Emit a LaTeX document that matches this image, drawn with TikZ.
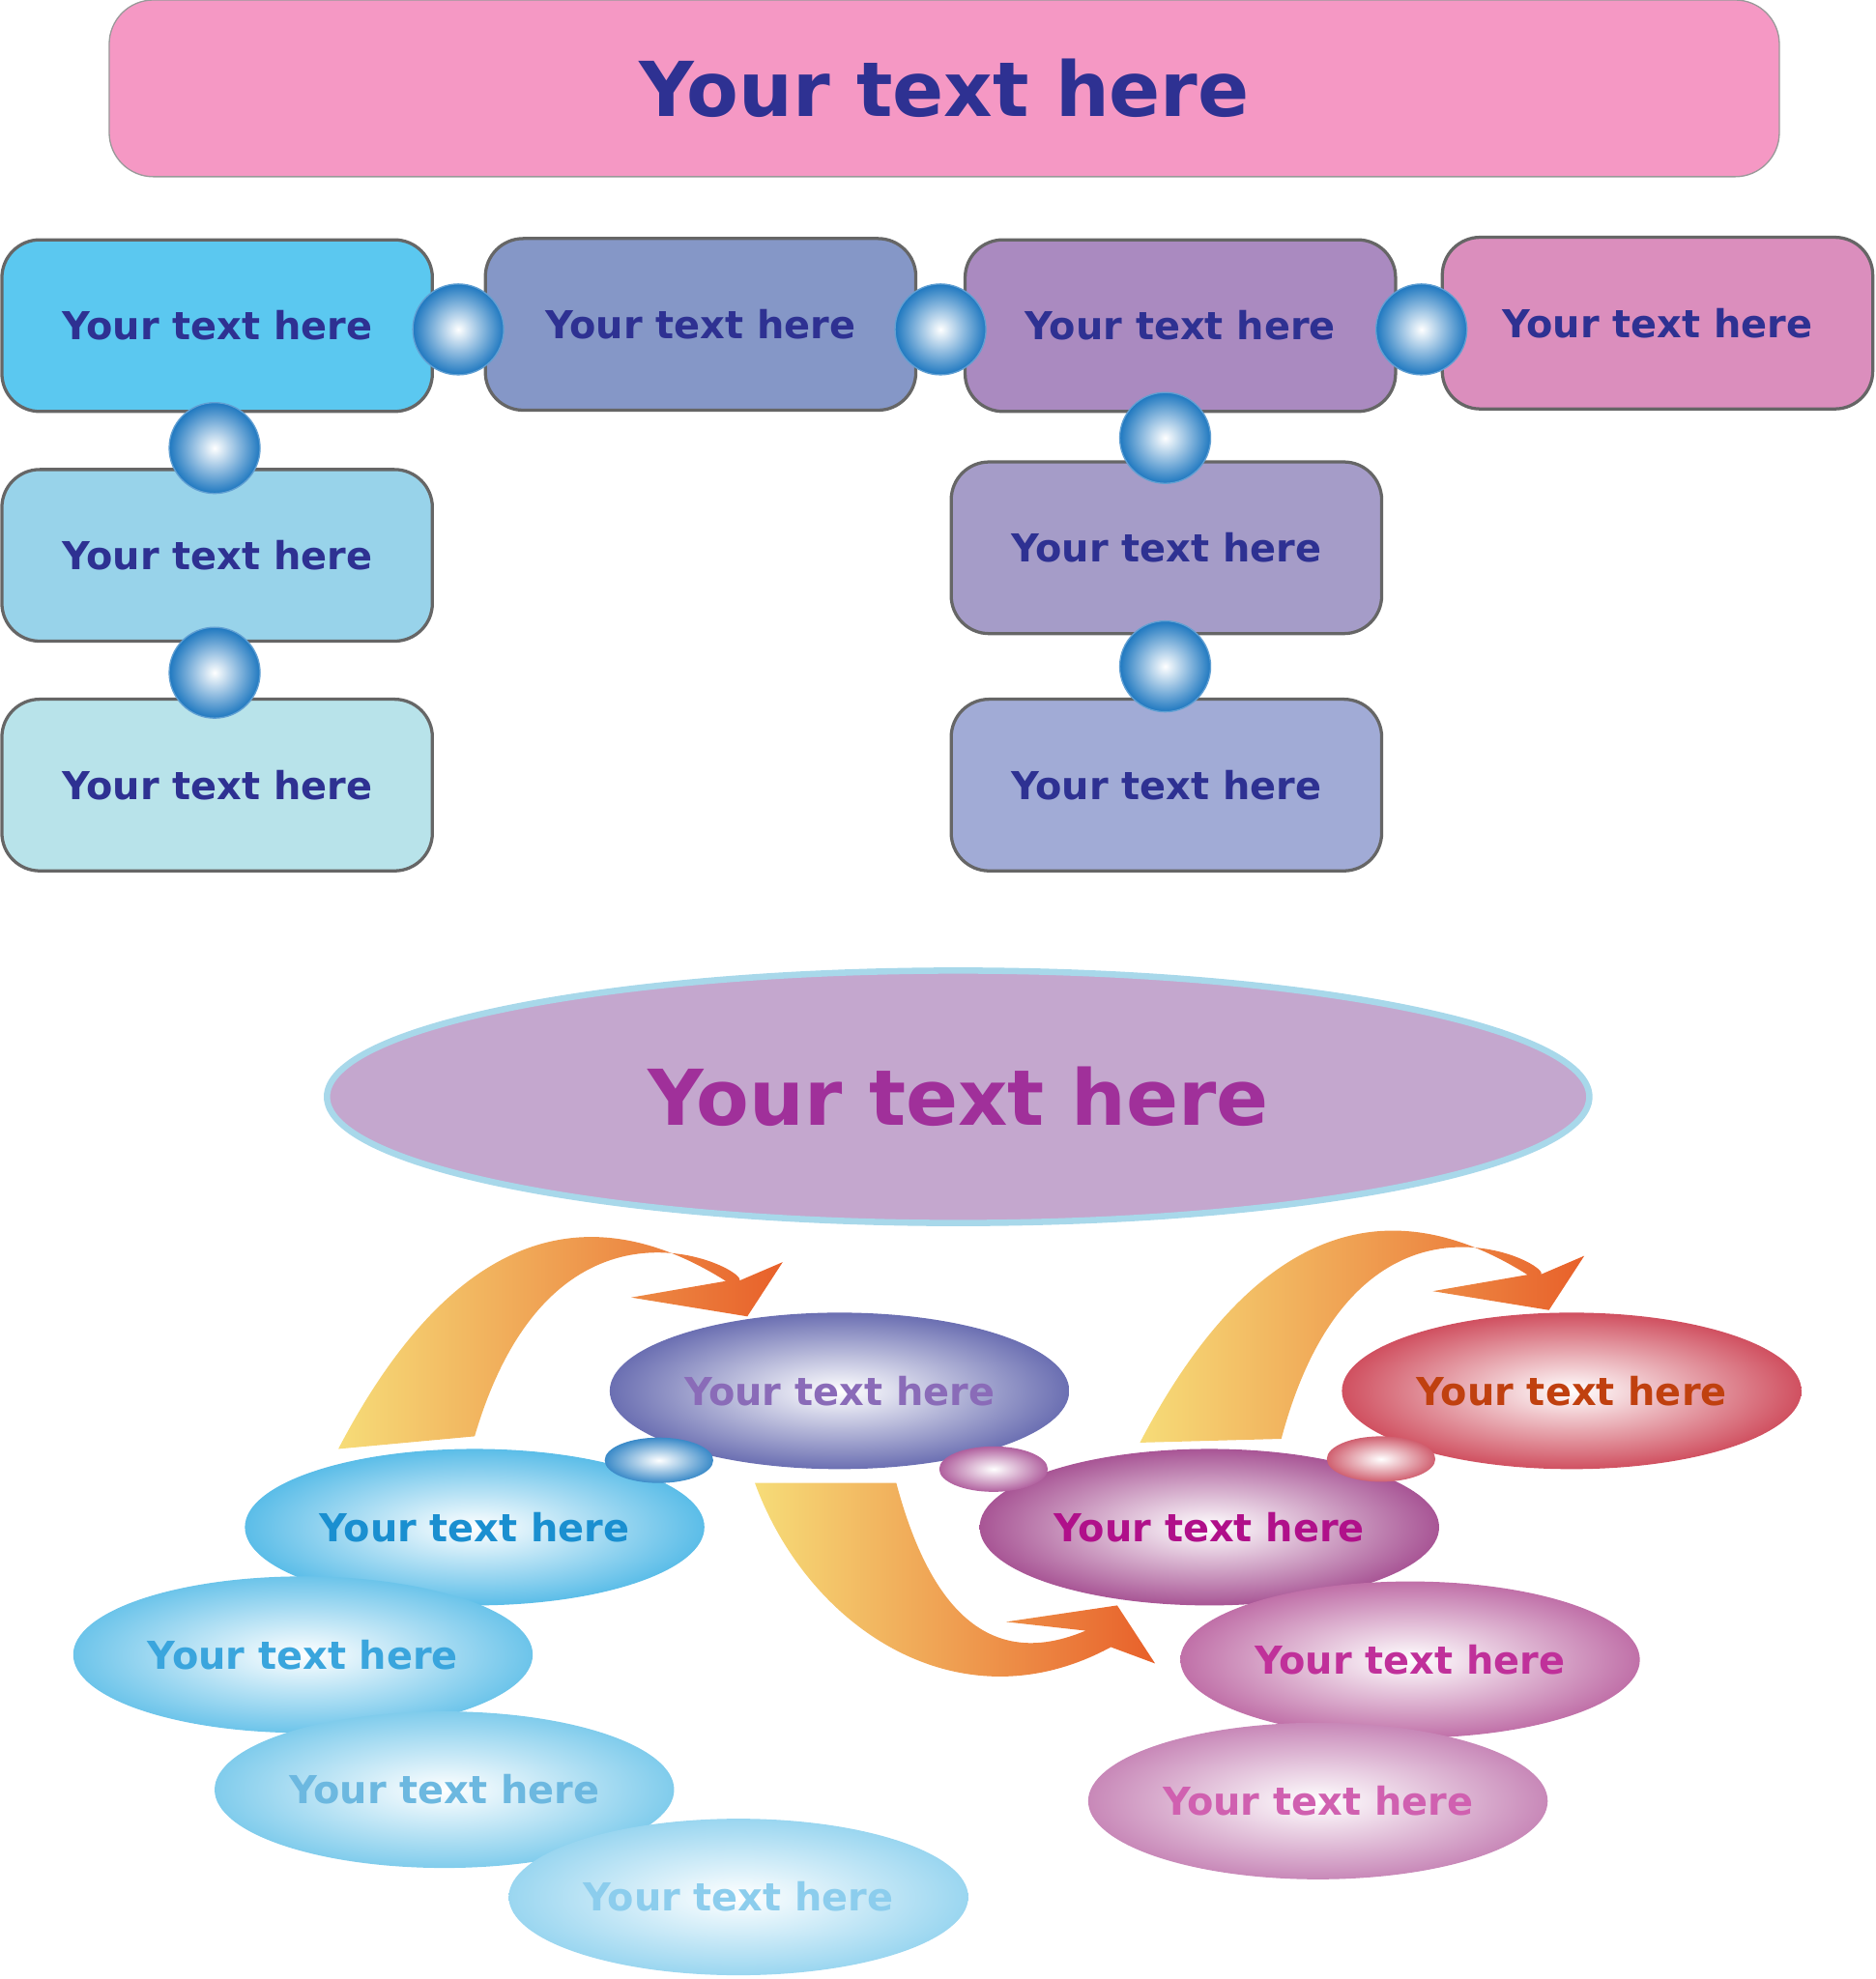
\documentclass[tikz,border=0pt]{standalone}
\usepackage{fontspec}
\setmainfont{DejaVu Sans}
\usetikzlibrary{shapes.geometric}
\definecolor{navy}{HTML}{2E3192}
\definecolor{ballb}{HTML}{1F78C0}
\definecolor{cT}{HTML}{F598C4}
\definecolor{c1}{HTML}{5BC8F0}
\definecolor{c2}{HTML}{8597C7}
\definecolor{c3}{HTML}{AA8AC0}
\definecolor{c4}{HTML}{DB8EBD}
\definecolor{c5}{HTML}{98D3EA}
\definecolor{c6}{HTML}{B8E3EA}
\definecolor{c7}{HTML}{A59CC8}
\definecolor{c8}{HTML}{A1ABD6}
\definecolor{bigf}{HTML}{C4A7CE}
\definecolor{bigd}{HTML}{A8D8EA}
\definecolor{bigt}{HTML}{A0309A}
\definecolor{o1}{HTML}{6B6FB2}\definecolor{t1}{HTML}{8A6BB8}
\definecolor{o2}{HTML}{D05060}\definecolor{t2}{HTML}{C0400F}
\definecolor{o3}{HTML}{5BBDE8}\definecolor{t3}{HTML}{1A8FD0}
\definecolor{o4}{HTML}{6CC4EA}\definecolor{t4}{HTML}{3AA5DD}
\definecolor{o5}{HTML}{80CCEC}\definecolor{t5}{HTML}{6CB8E0}
\definecolor{o6}{HTML}{9AD6F0}\definecolor{t6}{HTML}{8CCDED}
\definecolor{o7}{HTML}{A85595}\definecolor{t7}{HTML}{B0108A}
\definecolor{o8}{HTML}{C070A8}\definecolor{t8}{HTML}{C0309A}
\definecolor{o9}{HTML}{C888B8}\definecolor{t9}{HTML}{D060B0}
\definecolor{m1c}{HTML}{3A8AC8}\definecolor{m2c}{HTML}{B0609E}\definecolor{m3c}{HTML}{D06070}
\definecolor{ay}{HTML}{F6DC78}\definecolor{ao}{HTML}{E8602A}
\tikzset{
 box/.style={draw=black!60, line width=2.5pt, rounded corners=30pt, minimum width=341pt, minimum height=136pt, text=navy, font=\fontsize{30.5}{33}\selectfont\bfseries},
 ball/.style={circle, minimum size=72pt, inner sep=0, shade, inner color=white, outer color=ballb, draw=ballb!70!white, line width=1pt},
 ell/.style={ellipse, minimum width=364pt, minimum height=124pt, inner sep=0, shade, inner color=white, font=\fontsize{30.5}{33}\selectfont\bfseries},
 sell/.style={ellipse, minimum width=86pt, minimum height=36pt, inner sep=0, shade, inner color=white},
 arr/.style={shading angle=#1, left color=ay, right color=ao}
}
\begin{document}
\begin{tikzpicture}[x=1pt,y=-1pt]
\useasboundingbox (0,0) rectangle (1486,1568);
\node[box, minimum width=1323pt, minimum height=140pt, fill=cT, draw=black!40, line width=1pt, rounded corners=35pt, font=\fontsize{60}{66}\selectfont\bfseries] (title) at (748,70) {Your text here};
\node[box, fill=c1] (b1) at (172,258) {Your text here};
\node[box, fill=c2] (b2) at (555,257) {Your text here};
\node[box, fill=c3] (b3) at (935,258) {Your text here};
\node[box, fill=c4] (b4) at (1313,256) {Your text here};
\node[box, fill=c5] (b5) at (172,440) {Your text here};
\node[box, fill=c6] (b6) at (172,622) {Your text here};
\node[box, fill=c7] (b7) at (924,434) {Your text here};
\node[box, fill=c8] (b8) at (924,622) {Your text here};
\node[ball] (s1) at (363,261) {};
\node[ball] (s2) at (745,261) {};
\node[ball] (s3) at (1126,261) {};
\node[ball] (s4) at (170,355) {};
\node[ball] (s5) at (170,533) {};
\node[ball] (s6) at (923,347) {};
\node[ball] (s7) at (923,528) {};
\node[ellipse, minimum width=1000pt, minimum height=200pt, fill=bigf, draw=bigd, line width=5pt, text=bigt, font=\fontsize{61}{66}\selectfont\bfseries] (big) at (759,869) {Your text here};
% arrows
\shade[arr=60] (268,1148) .. controls (340,1010) and (440,930) .. (575,1015) -- (500,1028) -- (592,1043) -- (620,1000) -- (585,1015) .. controls (600,1010) and (440,920) .. (376,1138) -- cycle;
\shade[arr=60] (903,1143) .. controls (975,1005) and (1075,925) .. (1210,1010) -- (1135,1023) -- (1227,1038) -- (1255,995) -- (1220,1010) .. controls (1235,1005) and (1075,915) .. (1015,1140) -- cycle;
\shade[arr=150] (598,1175) .. controls (640,1290) and (760,1370) .. (880,1305) -- (915,1318) -- (885,1272) -- (797,1285) -- (860,1292) .. controls (770,1330) and (730,1250) .. (710,1175) -- cycle;
% ellipses
\node[ell, outer color=o1, text=t1] (e1) at (665,1102) {Your text here};
\node[ell, outer color=o2, text=t2] (e2) at (1245,1102) {Your text here};
\node[ell, outer color=o3, text=t3] (e3) at (376,1210) {Your text here};
\node[ell, outer color=o7, text=t7] (e7) at (958,1210) {Your text here};
\node[ell, outer color=o8, text=t8] (e8) at (1117,1315) {Your text here};
\node[ell, outer color=o9, text=t9] (e9) at (1044,1427) {Your text here};
\node[ell, outer color=o4, text=t4] (e4) at (240,1311) {Your text here};
\node[ell, outer color=o5, text=t5] (e5) at (352,1418) {Your text here};
\node[ell, outer color=o6, text=t6] (e6) at (585,1503) {Your text here};
\node[sell, outer color=m1c] (m1) at (522,1157) {};
\node[sell, outer color=m2c] (m2) at (787,1164) {};
\node[sell, outer color=m3c] (m3) at (1094,1156) {};
\end{tikzpicture}
\end{document}
